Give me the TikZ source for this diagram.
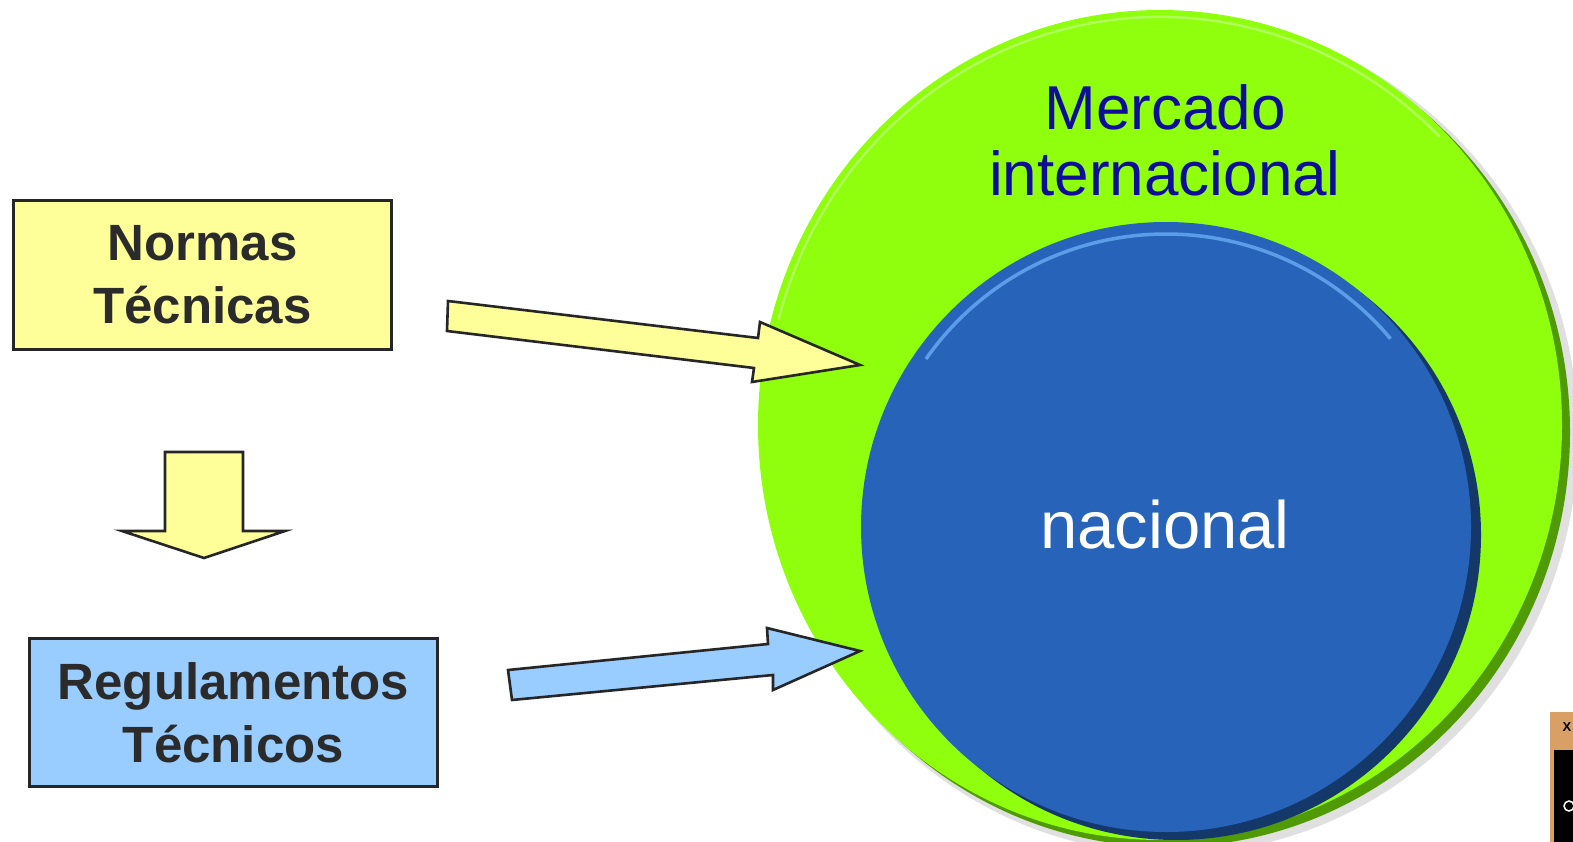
\documentclass[tikz,border=0pt]{standalone}
\usepackage{fontspec}
\setmainfont{Liberation Sans}
\usetikzlibrary{positioning, calc}

\definecolor{normfill}{HTML}{FFFF99}
\definecolor{regfill}{HTML}{99CCFF}
\definecolor{edgegray}{HTML}{262626}
\definecolor{textgray}{HTML}{2B2B2B}
\definecolor{limegreen}{HTML}{8FFF0E}
\definecolor{rimgreen}{HTML}{4F9A05}
\definecolor{lightlime}{HTML}{B0FF5A}
\definecolor{natblue}{HTML}{2764B9}
\definecolor{navyrim}{HTML}{15386B}
\definecolor{glowblue}{HTML}{5C9DE9}
\definecolor{mercblue}{HTML}{0E0E98}
\definecolor{woodtan}{HTML}{D9A066}

\begin{document}
\begin{tikzpicture}[x=1pt, y=-1pt,
    box/.style={draw=edgegray, line width=2.4pt, align=center, text=textgray,
        font=\fontsize{51}{63}\selectfont\bfseries},
    fatarrow/.style={draw=edgegray, line width=2.6pt, line join=miter}
]
\useasboundingbox[fill=white] (0,0) rectangle (1573,842);

% the two markets
\coordinate (outer) at (1160,425);
\coordinate (inner) at (1166,527);
\fill[black, opacity=0.12] ($(outer)+(13,11)$) ellipse [x radius=405, y radius=418];
\fill[rimgreen] ($(outer)+(8,7)$) ellipse [x radius=402, y radius=415];
\fill[limegreen] (outer) ellipse [x radius=402, y radius=415];
\draw[lightlime, line width=2.5pt] ($(outer)+({395*cos(195)},{408*sin(195)})$)
    arc [start angle=195, end angle=315, x radius=395, y radius=408];
\fill[navyrim] ($(inner)+(10,8)$) circle [radius=305];
\fill[natblue] (inner) circle [radius=305];
\draw[glowblue, line width=3.5pt] ($(inner)+(215:293)$) arc [start angle=215, end angle=320, radius=293];

\node[font=\fontsize{62}{66}\selectfont, text=mercblue, align=center] (intl) at (1165,140) {Mercado\\internacional};
\node[font=\fontsize{67}{70}\selectfont, text=white, anchor=base] (nac) at (1165,548) {nacional};

% left column
\node[box, fill=normfill, minimum width=378pt, minimum height=149pt] (normas) at (202.5,275) {Normas\\Técnicas};
\node[box, fill=regfill, minimum width=408pt, minimum height=148pt] (regul) at (233.5,712.5) {Regulamentos\\Técnicos};

\draw[fatarrow, fill=normfill] (165,452) -- (243,452) -- (243,531) -- (285,531) -- (204,558)
    -- (122,531) -- (165,531) -- cycle;
\draw[fatarrow, fill=normfill] (448,301) -- (758,338) -- (760,322) -- (860,365) -- (752,382)
    -- (754,368) -- (447,331) -- cycle;
\draw[fatarrow, fill=regfill] (508,670) -- (768,644) -- (767,628) -- (860,651) -- (773,690)
    -- (773,675) -- (512,700) -- cycle;

% corner logo, cut off by the page
\fill[woodtan] (1550,712) rectangle (1573,842);
\fill[black] (1554,750) rectangle (1573,842);
\node[font=\bfseries\fontsize{13}{13}\selectfont] (logo) at (1567,727) {X};
\draw[white, line width=1.5pt] (1569,806) circle [radius=5];
\end{tikzpicture}
\end{document}
